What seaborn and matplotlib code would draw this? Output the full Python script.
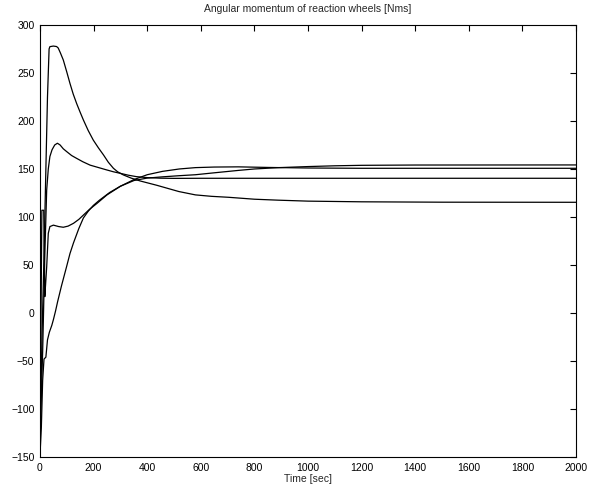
import seaborn as sns
import matplotlib.pyplot as plt
import pandas as pd

# values
t_a = [0, 8, 15, 22, 28, 34, 37, 50, 62, 68, 76, 87, 100, 112, 124, 137, 150, 162, 180, 199,
       218, 237, 255, 274, 290, 311, 340, 374, 436, 518, 580, 640, 704, 800, 889, 1000, 1200, 1500, 2000]
h_a = [-130, -20, 60, 150, 225, 275, 277.4, 278, 277.5, 276, 271, 263.5, 251, 239, 228, 218, 209, 201, 190, 180,
       172, 164.6, 157, 150.7, 147, 143.8, 140.5, 137.5, 133, 126.5, 123, 121.5, 120.5, 118.5, 117.5, 116.5, 115.8, 115.4, 115.3]

t_b = [0, 10, 18, 25, 31, 37, 45, 55, 65, 75, 87, 100, 118, 137, 160, 187, 218, 249, 275, 299,
       330, 360, 400, 450, 500, 600, 800, 1000, 2000]
h_b = [-135, -40, 60, 128, 150, 163, 170, 175, 176.8, 175, 171, 168, 164, 161, 157.5, 154, 151.5, 149, 147, 145.5,
       143.5, 142, 141, 140.4, 140.2, 140.3, 140.3, 140.3, 140.3]

t_c = [0, 4, 7, 14, 18, 21, 25, 31, 37, 50, 70, 87, 105, 125, 145, 162, 185, 212, 250, 300,
       351, 400, 457, 520, 580, 650, 740, 850, 1000, 1200, 2000]
h_c = [-140, 0, 107, 107, 17, 30, 48, 83, 90, 91.5, 90, 89.3, 90.5, 93.4, 97.5, 102, 108, 114, 123, 132,
       139, 144, 147.5, 150, 151.4, 152, 152.2, 151.6, 151, 150.7, 150.7]

t_d = [0, 5, 10, 15, 22, 28, 35, 44, 50, 58, 66, 80, 99, 112, 125, 145, 162, 180, 199, 222, 260, 300,
       351, 400, 457, 520, 580, 650, 740, 800, 891, 1000, 1100, 1200, 1400, 2000]
h_d = [-148, -120, -70, -48, -46, -28, -20, -13, -7, 2, 12, 28, 48, 62, 73, 88, 99, 106, 112, 117.5, 125.5, 132,
       138, 140.5, 141.8, 143, 144, 146, 148.5, 150, 151.4, 152.5, 153.3, 153.8, 154.1, 154.2]

x_ticks = list(range(0, 2001, 200))
y_ticks = list(range(-150, 301, 50))

frames = []
for name, t, h in [("1", t_a, h_a), ("2", t_b, h_b), ("3", t_c, h_c), ("4", t_d, h_d)]:
    frames.append(pd.DataFrame({"time": t, "h": h, "wheel": name}))
data = pd.concat(frames, ignore_index=True)

sns.set_style("white")
plt.rcParams["font.family"] = ["Liberation Sans", "DejaVu Sans"]

fig = plt.figure(figsize=(6.03, 4.91), dpi=100)
ax = fig.add_axes([0.0663, 0.0692, 0.889, 0.880])
sns.lineplot(data=data, x="time", y="h", hue="wheel", units="wheel", estimator=None,
             palette=["black"] * 4, legend=False, linewidth=0.9, sort=False, ax=ax)

ax.set_xlim(0, 2000)
ax.set_ylim(-150, 300)
ax.set_xticks(x_ticks)
ax.set_yticks(y_ticks)
ax.tick_params(direction="in", top=True, right=True, length=4, width=0.8,
               labelsize=7.5, pad=4, colors="black")
for s in ax.spines.values():
    s.set_color("black")
    s.set_linewidth(0.8)
ax.set_title("Angular momentum of reaction wheels [Nms]", fontsize=7.5, pad=9)
ax.set_xlabel("Time [sec]", fontsize=7.5, labelpad=1)
ax.set_ylabel("")

fig.savefig("out.png", dpi=100)
